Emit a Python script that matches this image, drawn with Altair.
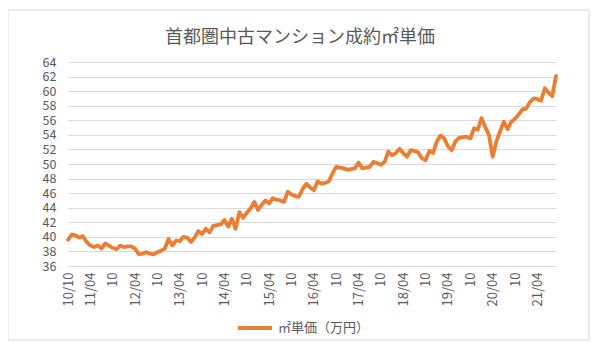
import altair as alt
import pandas as pd

# Monthly values 2010/10 .. 2021/09 (万円 per ㎡)
values = [
    39.6, 40.3, 40.2, 39.9, 40.1, 39.3, 38.8, 38.6, 38.8, 38.4,
    39.1, 38.8, 38.5, 38.3, 38.8, 38.6, 38.7, 38.7, 38.4, 37.6,
    37.7, 37.9, 37.7, 37.6, 37.9, 38.1, 38.4, 39.7, 38.8, 39.5,
    39.4, 40.0, 39.9, 39.3, 39.9, 40.8, 40.4, 41.1, 40.6, 41.5,
    41.6, 41.7, 42.3, 41.4, 42.5, 41.1, 43.4, 42.6, 43.3, 43.9,
    44.8, 43.7, 44.4, 45.0, 44.6, 45.3, 45.1, 45.0, 44.8, 46.2,
    45.8, 45.6, 45.5, 46.6, 47.3, 46.8, 46.4, 47.6, 47.3, 47.4,
    47.6, 48.7, 49.6, 49.5, 49.4, 49.2, 49.3, 49.4, 50.2, 49.4,
    49.5, 49.6, 50.3, 50.1, 49.9, 50.3, 51.7, 51.2, 51.5, 52.1,
    51.5, 51.0, 51.9, 51.8, 51.6, 50.8, 50.5, 51.8, 51.5, 53.1,
    53.9, 53.5, 52.4, 51.9, 53.1, 53.6, 53.7, 53.75, 53.5, 54.9,
    54.7, 56.3, 55.1, 54.0, 51.0, 53.1, 54.5, 55.8, 54.8, 55.8,
    56.2, 56.8, 57.5, 57.6, 58.5, 59.0, 58.9, 58.7, 60.4, 59.8,
    59.3, 62.1,
]
tick_labels = ["10/10", "11/04", "10", "12/04", "10", "13/04", "10", "14/04", "10",
               "15/04", "10", "16/04", "10", "17/04", "10", "18/04", "10", "19/04",
               "10", "20/04", "10", "21/04"]
y_ticks = list(range(36, 65, 2))
series_name = "㎡単価（万円）"
title_text = "首都圏中古マンション成約㎡単価"

df = pd.DataFrame({"idx": list(range(len(values))), "value": values,
                   "series": [series_name] * len(values)})

label_expr = "[" + ",".join("'" + t + "'" for t in tick_labels) + "][round(datum.value / 6)]"

W, H = 488, 204
FONT = "Noto Sans CJK JP"
GRAY = "#595959"

one = pd.DataFrame({"a": [0]})

border = alt.Chart(one).mark_rect(
    fill=None, stroke="#d9d9d9", strokeWidth=1
).encode(
    x=alt.value(-60), x2=alt.value(521), y=alt.value(-52), y2=alt.value(278)
)

title = alt.Chart(one).mark_text(
    font=FONT, fontSize=18, color=GRAY, align="center", baseline="middle"
).encode(
    x=alt.value(232), y=alt.value(-24), text=alt.value(title_text)
)

line = alt.Chart(df).mark_line(strokeWidth=3.8, strokeJoin="round", strokeCap="round").encode(
    x=alt.X("idx:Q", scale=alt.Scale(domain=[0, len(values) - 1], nice=False, zero=False),
            axis=alt.Axis(values=[6 * k for k in range(len(tick_labels))], labelExpr=label_expr,
                          labelAngle=-90, labelAlign="right", labelBaseline="middle",
                          labelPadding=6, ticks=False, grid=False, domain=True,
                          domainColor="#d9d9d9", labelFont=FONT, labelFontSize=13,
                          labelColor=GRAY, title=None, labelOverlap=False)),
    y=alt.Y("value:Q", scale=alt.Scale(domain=[36, 64], nice=False, zero=False),
            axis=alt.Axis(values=y_ticks, ticks=False, domain=False, grid=True,
                          gridColor="#d9d9d9", gridWidth=1, labelPadding=12,
                          labelFont=FONT, labelFontSize=12.5, labelColor=GRAY, title=None)),
    color=alt.Color("series:N", scale=alt.Scale(range=["#ED7D31"]),
                    legend=alt.Legend(orient="none", legendX=168, legendY=247, title=None,
                                      symbolType="stroke", symbolSize=1150, symbolStrokeWidth=4,
                                      labelFont=FONT, labelFontSize=13, labelColor=GRAY,
                                      labelOffset=4)),
)

chart = alt.layer(border, title, line).properties(
    width=W, height=H,
    autosize=alt.AutoSizeParams(type="none"),
    padding={"left": 60, "top": 54, "right": 37, "bottom": 82},
    background="white",
).configure_view(stroke=None)

chart.save("out.html", embed_options={"renderer": "svg", "actions": False})
